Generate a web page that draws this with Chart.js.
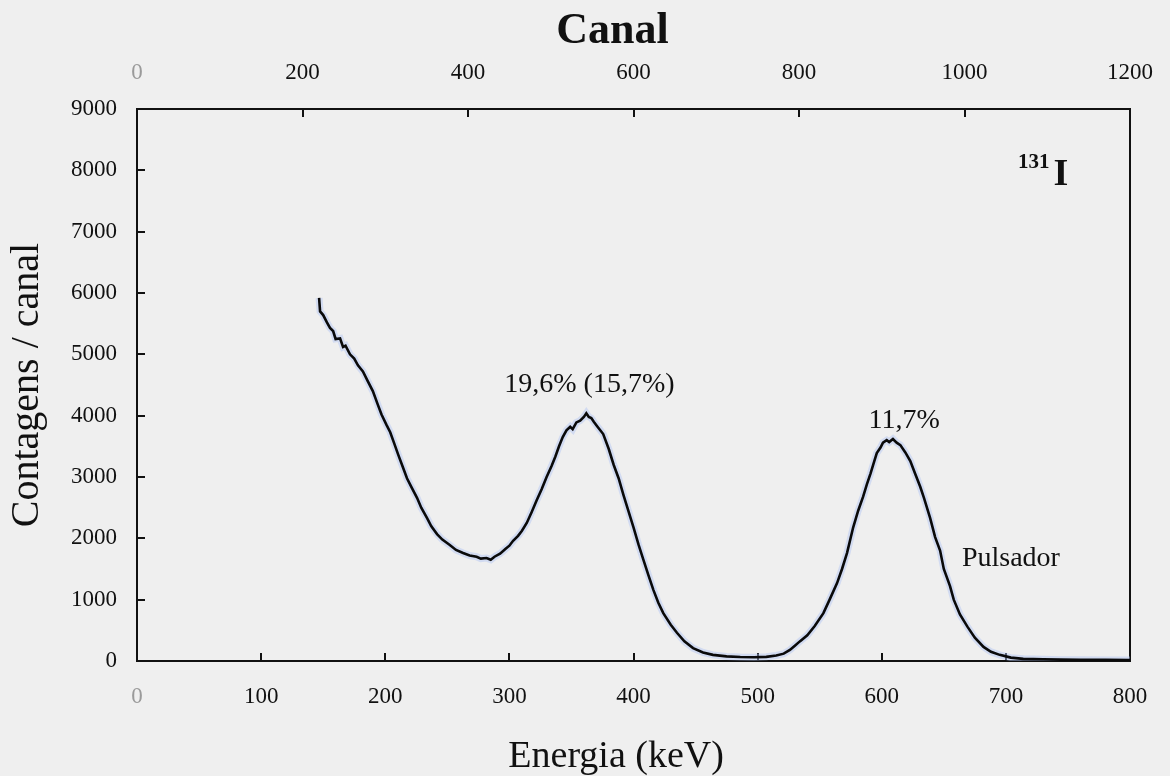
<!DOCTYPE html>
<html>
<head>
<meta charset="utf-8">
<title>Espectro 131I</title>
<script src="https://cdn.jsdelivr.net/npm/chart.js@4.4.1/dist/chart.umd.min.js"></script>
<style>
  html, body { margin: 0; padding: 0; background: #efefef; }
  #wrap { width: 1170px; height: 776px; }
</style>
</head>
<body>
<div id="wrap"><canvas id="c" width="1170" height="776"></canvas></div>
<script>
// Energia (keV) de cada ponto do espectro
const energia = [
  146.7, 147.5, 150, 153, 155.5, 158, 160, 163.6, 166, 168, 171.6, 175, 178, 182, 186, 190, 194, 197,
  201, 204, 207, 210.5, 214, 217.5, 221, 225.6, 229, 233.7, 237, 241.7, 246, 252, 257, 262.7, 268,
  273.6, 277, 281.6, 285, 288, 292.5, 297, 300, 303, 307, 310, 314, 318, 322, 326, 330, 334, 337,
  340, 343, 346, 349, 351, 354, 357, 360, 362, 364, 366, 368, 371, 375.6, 380, 384, 388, 392, 396,
  400, 404, 408, 412, 416, 420, 424, 430, 435, 441, 448, 456, 464, 475, 486, 497, 507, 515, 521,
  526, 530, 534, 540, 546, 553, 558, 564, 568, 572, 577, 581, 585, 588, 591, 594, 596, 599, 601,
  604, 606, 609, 612, 615, 619, 623, 627, 631, 634, 639, 643, 647, 650, 655, 658, 663, 669, 675,
  682, 688, 695, 704, 714, 730, 744, 760, 780, 800
];

// Contagens por canal correspondentes
const contagens = [
  5920, 5700, 5640, 5520, 5430, 5380, 5250, 5260, 5120, 5140, 5000, 4930, 4820, 4720, 4560, 4400, 4180, 4020,
  3850, 3730, 3560, 3360, 3170, 2980, 2840, 2660, 2500, 2330, 2200, 2070, 1980, 1890, 1810, 1760, 1720,
  1700, 1670, 1680, 1650, 1700, 1750, 1830, 1880, 1960, 2040, 2120, 2250, 2430, 2620, 2800, 3000, 3180, 3330,
  3500, 3650, 3760, 3820, 3780, 3890, 3920, 3980, 4040, 3980, 3960, 3900, 3820, 3700, 3460, 3200, 2980, 2700, 2440,
  2180, 1900, 1650, 1400, 1160, 950, 780, 590, 460, 320, 210, 140, 100, 75, 65, 62, 68, 90, 120,
  180, 250, 320, 420, 570, 780, 1000, 1270, 1500, 1760, 2180, 2450, 2680, 2880, 3060, 3260, 3390, 3480, 3560,
  3600, 3570, 3620, 3560, 3520, 3400, 3260, 3050, 2840, 2660, 2330, 2020, 1800, 1500, 1220, 1000, 760, 560, 380,
  230, 150, 100, 55, 35, 28, 22, 20, 18, 15
];

// Marcas dos eixos
const ticksEnergia = [0, 100, 200, 300, 400, 500, 600, 700, 800];
const ticksCanal = [0, 200, 400, 600, 800, 1000, 1200];
const ticksContagens = [0, 1000, 2000, 3000, 4000, 5000, 6000, 7000, 8000, 9000];

// Anotações: [texto, energia, contagens, alinhamento]
const rotulos = [
  ['19,6% (15,7%)', 364.5, 4390, 'center'],
  ['11,7%', 618, 3800, 'center'],
  ['Pulsador', 664.6, 1555, 'left']
];
const isotopo = { massa: '131', simbolo: 'I', energia: 709.7, contagens: 8040 };

const SERIF = "'Liberation Serif', 'Times New Roman', serif";
const INK = '#111111';
Chart.defaults.font.family = SERIF;
Chart.defaults.color = INK;

const pontos = energia.map((e, i) => ({ x: e, y: contagens[i] }));

// Textos sobre o gráfico e títulos dos eixos horizontais
const anotacoes = {
  id: 'anotacoes',
  afterDatasetsDraw(chart) {
    const { ctx, scales } = chart;
    const sx = scales.x, sy = scales.y;
    ctx.save();
    ctx.fillStyle = INK;
    ctx.textBaseline = 'alphabetic';
    ctx.font = '28px ' + SERIF;
    rotulos.forEach(([t, e, c, al]) => {
      ctx.textAlign = al;
      ctx.fillText(t, sx.getPixelForValue(e), sy.getPixelForValue(c));
    });
    // rótulo do isótopo com número de massa sobrescrito
    const x0 = sx.getPixelForValue(isotopo.energia);
    const yb = sy.getPixelForValue(isotopo.contagens);
    ctx.textAlign = 'left';
    ctx.font = 'bold 21px ' + SERIF;
    ctx.fillText(isotopo.massa, x0, yb);
    const w = ctx.measureText(isotopo.massa).width;
    ctx.font = 'bold 38px ' + SERIF;
    ctx.fillText(isotopo.simbolo, x0 + w + 4, yb + 17);

    // títulos: canal (em cima) e energia (em baixo)
    ctx.textAlign = 'center';
    ctx.textBaseline = 'middle';
    ctx.font = 'bold 44px ' + SERIF;
    ctx.fillText('Canal', sx.getPixelForValue(383), 32);
    ctx.font = '38px ' + SERIF;
    ctx.fillText('Energia (keV)', sx.getPixelForValue(386), 757);
    ctx.restore();
  }
};

const eixoGrade = {
  drawOnChartArea: false,
  drawTicks: true,
  tickLength: -8,
  lineWidth: 2,
  color: INK
};
const borda = { display: true, color: INK, width: 2 };
const zeroCinza = (ctx) => (ctx.tick && ctx.tick.value === 0 ? '#9a9a9a' : INK);
const semSeparador = (v) => String(v);
// os rótulos das extremidades não empurram a área do gráfico
const semFolga = (s) => { s.paddingLeft = 0; s.paddingRight = 0; s.paddingTop = 0; s.paddingBottom = 0; };

new Chart(document.getElementById('c'), {
  type: 'line',
  data: {
    datasets: [
      {
        // espectro medido
        data: pontos,
        borderColor: '#0a0a0a',
        borderWidth: 2.6,
        pointRadius: 0,
        tension: 0,
        fill: false,
        order: 0
      },
      {
        // halo azulado da impressão em torno da curva
        data: pontos,
        borderColor: 'rgba(175, 195, 245, 0.45)',
        borderWidth: 7,
        pointRadius: 0,
        tension: 0,
        fill: false,
        order: 1
      }
    ]
  },
  plugins: [anotacoes],
  options: {
    responsive: false,
    animation: false,
    events: [],
    layout: { padding: 0, autoPadding: false },
    plugins: { legend: { display: false }, tooltip: { enabled: false } },
    scales: {
      x: {
        type: 'linear', position: 'bottom', min: 0, max: 800,
        afterBuildTicks: (s) => { s.ticks = ticksEnergia.map(v => ({ value: v })); },
        afterFit: (s) => { s.height = 115; semFolga(s); },
        grid: eixoGrade, border: borda,
        ticks: { autoSkip: false, maxRotation: 0, padding: 30, font: { size: 23 }, color: zeroCinza, callback: semSeparador }
      },
      x2: {
        type: 'linear', position: 'top', min: 0, max: 1200,
        afterBuildTicks: (s) => { s.ticks = ticksCanal.map(v => ({ value: v })); },
        afterFit: (s) => { s.height = 109; semFolga(s); },
        grid: eixoGrade, border: borda,
        ticks: { autoSkip: false, maxRotation: 0, padding: 30, font: { size: 23 }, color: zeroCinza, callback: semSeparador }
      },
      y: {
        type: 'linear', position: 'left', min: 0, max: 9000,
        afterBuildTicks: (s) => { s.ticks = ticksContagens.map(v => ({ value: v })); },
        afterFit: (s) => { s.width = 137; semFolga(s); },
        grid: eixoGrade, border: borda,
        ticks: { autoSkip: false, padding: 28, font: { size: 23 }, callback: semSeparador },
        title: { display: true, text: 'Contagens / canal', font: { size: 40, lineHeight: 1 }, padding: { top: 7, bottom: 0 } }
      },
      y2: {
        type: 'linear', position: 'right', min: 0, max: 9000,
        afterFit: (s) => { s.width = 40; semFolga(s); },
        grid: { drawOnChartArea: false, drawTicks: false },
        border: borda,
        ticks: { display: false }
      }
    }
  }
});
</script>
</body>
</html>
